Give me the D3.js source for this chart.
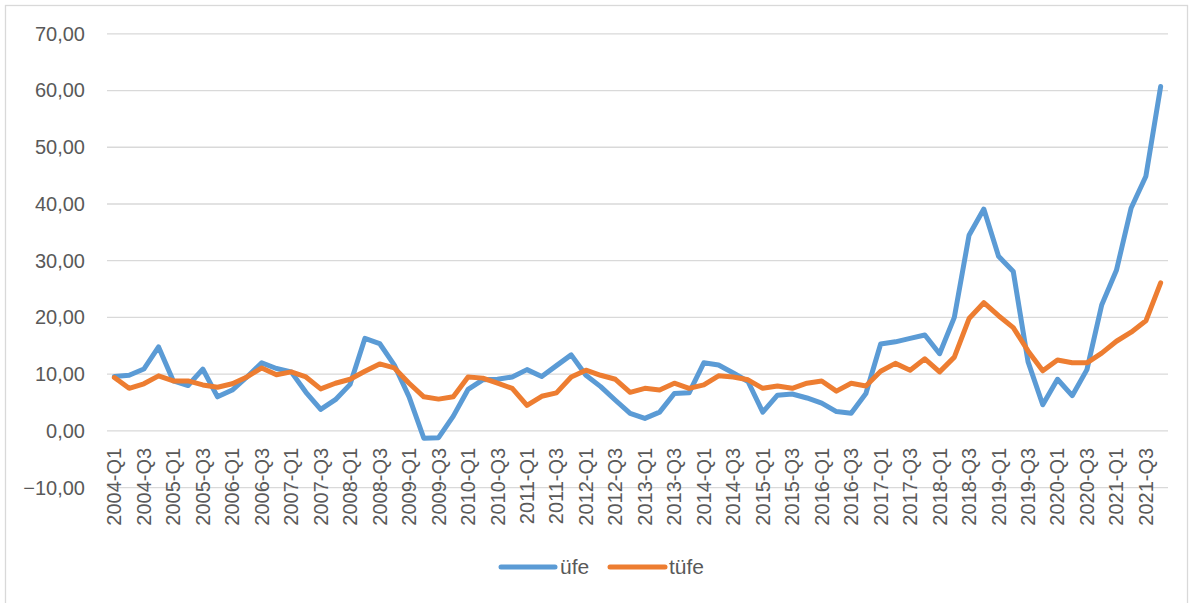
<!DOCTYPE html>
<html>
<head>
<meta charset="utf-8">
<script src="https://cdn.jsdelivr.net/npm/d3@7/dist/d3.min.js"></script>
<style>
  html, body { margin: 0; padding: 0; background: #ffffff; }
  svg { display: block; }
  text { font-family: "Liberation Sans", Arial, sans-serif; fill: #595959; }
</style>
</head>
<body>
<svg id="chart" width="1192" height="603"></svg>
<script>
// Quarterly periods 2004-Q1 .. 2021-Q4
const years = d3.range(2004, 2022);
const quarters = years.flatMap(y => ["Q1", "Q2", "Q3", "Q4"].map(q => `${y}-${q}`));

// Annual change, producer prices (üfe)
const ufe = [9.6, 9.8, 10.9, 14.8, 8.8, 8.0, 10.9, 6.0, 7.2, 9.5, 12.0, 11.0,
             10.4, 6.8, 3.8, 5.5, 8.2, 16.3, 15.4, 11.6, 6.0, -1.3, -1.2, 2.6,
             7.3, 9.0, 9.1, 9.5, 10.8, 9.6, 11.5, 13.4, 9.8, 7.8, 5.4, 3.1,
             2.2, 3.3, 6.6, 6.7, 12.0, 11.6, 10.2, 8.7, 3.3, 6.3, 6.5, 5.8,
             4.9, 3.4, 3.1, 6.6, 15.3, 15.7, 16.3, 16.9, 13.6, 20.0, 34.5, 39.1,
             30.8, 28.1, 12.2, 4.6, 9.1, 6.2, 10.8, 22.2, 28.3, 39.3, 44.9, 60.7];

// Annual change, consumer prices (tüfe)
const tufe = [9.4, 7.5, 8.3, 9.7, 8.8, 8.8, 8.1, 7.7, 8.3, 9.5, 11.1, 9.9,
              10.4, 9.5, 7.4, 8.4, 9.1, 10.5, 11.8, 11.1, 8.4, 6.0, 5.6, 6.0,
              9.5, 9.3, 8.4, 7.5, 4.5, 6.1, 6.7, 9.5, 10.7, 9.8, 9.1, 6.8,
              7.5, 7.2, 8.4, 7.5, 8.1, 9.7, 9.5, 9.0, 7.5, 7.9, 7.5, 8.4,
              8.8, 7.0, 8.4, 7.9, 10.5, 11.9, 10.7, 12.7, 10.4, 13.0, 19.8, 22.6,
              20.3, 18.2, 14.1, 10.6, 12.5, 12.0, 12.0, 13.7, 15.8, 17.4, 19.4, 26.1];

const yTicks = [-10, 0, 10, 20, 30, 40, 50, 60, 70];
const seriesNames = ["üfe", "tüfe"];
const seriesColors = ["#5B9BD5", "#ED7D31"];

const svg = d3.select("#chart");

// Outer chart frame
svg.append("rect")
  .attr("x", 5.5).attr("y", 5.5)
  .attr("width", 1182).attr("height", 640)
  .attr("fill", "none").attr("stroke", "#D9D9D9").attr("stroke-width", 1.3);

const plot = { left: 107, right: 1168, top: 33.8, bottom: 487.6 };

const x = d3.scaleBand().domain(quarters).range([plot.left, plot.right]);
const cx = q => x(q) + x.bandwidth() / 2;
const y = d3.scaleLinear().domain([-10, 70]).range([plot.bottom, plot.top]);

const locale = d3.formatLocale({ decimal: ",", thousands: ".", grouping: [3], currency: ["", ""] });
const fmt = locale.format(".2f");

// Horizontal gridlines
svg.append("g").selectAll("line").data(yTicks).join("line")
  .attr("x1", plot.left).attr("x2", plot.right)
  .attr("y1", d => y(d)).attr("y2", d => y(d))
  .attr("stroke", "#D9D9D9").attr("stroke-width", 1.3);

// Value axis labels
const yAxis = svg.append("g")
  .attr("transform", `translate(${plot.left - 22},0)`)
  .call(d3.axisLeft(y).tickValues(yTicks).tickFormat(fmt).tickSize(0).tickPadding(0));
yAxis.select(".domain").remove();
yAxis.selectAll("text")
  .attr("font-size", 20)
  .attr("fill", "#595959")
  .style("font-family", "'Liberation Sans', Arial, sans-serif");

// Category axis labels (every second quarter), rotated
const labelQuarters = quarters.filter((q, i) => i % 2 === 0);
const xAxis = svg.append("g")
  .attr("transform", `translate(0,${y(0) + 17})`)
  .call(d3.axisBottom(x).tickValues(labelQuarters).tickSize(0).tickPadding(0));
xAxis.select(".domain").remove();
xAxis.selectAll("text")
  .attr("font-size", 20)
  .attr("fill", "#595959")
  .style("font-family", "'Liberation Sans', Arial, sans-serif")
  .attr("text-anchor", "end")
  .attr("dy", "0.35em")
  .attr("transform", "rotate(-90)")
  .attr("x", 0).attr("y", 0);

// Series lines
const line = d3.line().x((d, i) => cx(quarters[i])).y(d => y(d));
[ufe, tufe].forEach((vals, k) => {
  svg.append("path")
    .datum(vals)
    .attr("d", line)
    .attr("fill", "none")
    .attr("stroke", seriesColors[k])
    .attr("stroke-width", 5)
    .attr("stroke-linejoin", "round")
    .attr("stroke-linecap", "round");
});

// Legend
const legendItems = [
  { name: seriesNames[0], color: seriesColors[0], x1: 501, x2: 555, tx: 560 },
  { name: seriesNames[1], color: seriesColors[1], x1: 610, x2: 665, tx: 669 }
];
const legendY = 567;
const lg = svg.append("g");
legendItems.forEach(it => {
  lg.append("line")
    .attr("x1", it.x1).attr("x2", it.x2)
    .attr("y1", legendY).attr("y2", legendY)
    .attr("stroke", it.color).attr("stroke-width", 5)
    .attr("stroke-linecap", "round");
  lg.append("text")
    .attr("x", it.tx).attr("y", legendY)
    .attr("dy", "0.35em")
    .attr("font-size", 21)
    .text(it.name);
});
</script>
</body>
</html>
